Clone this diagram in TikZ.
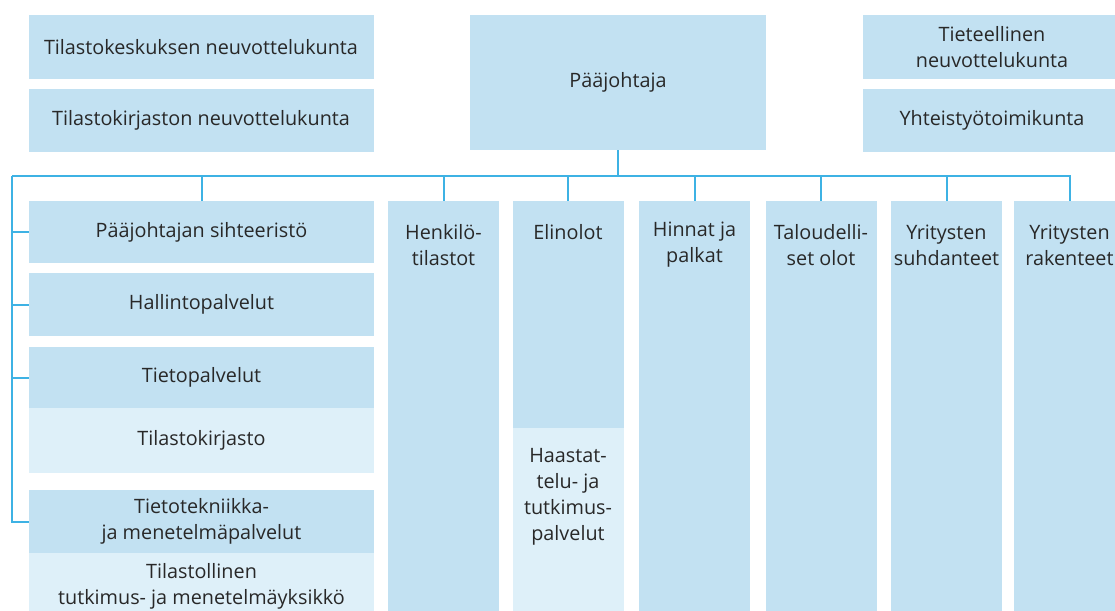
\documentclass[tikz,border=0pt]{standalone}
\usepackage{fontspec}
\setmainfont{Open Sans}
\definecolor{orgblue}{RGB}{194,225,242}
\definecolor{orglight}{RGB}{222,240,249}
\definecolor{orgline}{RGB}{62,178,228}
\definecolor{orgtext}{RGB}{40,40,40}
\begin{document}
\begin{tikzpicture}[x=1pt,y=-1pt]
    \tikzset{unit/.style = {shape=rectangle,fill=orgblue,text=orgtext,align=center,inner sep=0pt,font=\fontsize{19.8}{26}\selectfont}}
    \tikzset{subunit/.style = {unit,fill=orglight}}
    \tikzset{wide/.style = {minimum width=345pt}}
    \tikzset{dept/.style = {unit,minimum width=111pt}}
    \tikzset{depttitle/.style = {text=orgtext,align=center,inner sep=0pt,font=\fontsize{19.8}{26}\selectfont}}
    \tikzset{conn/.style = {draw=orgline,line width=2pt}}
    \useasboundingbox (0,0) rectangle (1115,610);
    \clip (0,0) rectangle (1115,610);
    % boards on the left
    \node[unit,wide,minimum height=64pt] (tkneuv) at (201,47) {Tilastokeskuksen neuvottelukunta};
    \node[unit,wide,minimum height=63pt] (tkkneuv) at (201,120.5) {Tilastokirjaston neuvottelukunta};
    % director general
    \node[unit,minimum width=296pt,minimum height=135pt] (pj) at (618,82.5) {Pääjohtaja};
    % boards on the right
    \node[unit,minimum width=258pt,minimum height=64pt] (tiet) at (992,47) {Tieteellinen\\neuvottelukunta};
    \node[unit,minimum width=258pt,minimum height=63pt] (yht) at (992,120.5) {Yhteistyötoimikunta};
    % staff units on the left
    \node[unit,wide,minimum height=62pt] (siht) at (201.5,232) {Pääjohtajan sihteeristö};
    \node[unit,wide,minimum height=63pt] (hall) at (201.5,304.5) {Hallintopalvelut};
    \node[unit,wide,minimum height=61pt] (tieto) at (201.5,377.5) {Tietopalvelut};
    \node[subunit,wide,minimum height=65pt] (kirj) at (201.5,440.5) {Tilastokirjasto};
    \node[unit,wide,minimum height=63pt] (tt) at (201.5,521.5) {Tietotekniikka-\\ja menetelmäpalvelut};
    \node[subunit,wide,minimum height=67pt] (tmy) at (201.5,586.5) {Tilastollinen\\tutkimus- ja menetelmäyksikkö};
    % statistics departments
    \node[dept,minimum height=419pt] (henk) at (443.5,410.5) {};
    \node[dept,minimum height=227pt] (elin) at (568,314.5) {};
    \node[subunit,minimum width=111pt,minimum height=192pt] (haas) at (568,524) {};
    \node[dept,minimum height=419pt] (hinnat) at (694.5,410.5) {};
    \node[dept,minimum height=419pt] (talous) at (821,410.5) {};
    \node[dept,minimum height=419pt] (suhd) at (946.5,410.5) {};
    \node[dept,minimum height=419pt] (rak) at (1069.5,410.5) {};
    % department titles
    \node[depttitle] (henkt) at (443.5,245) {Henkilö-\\tilastot};
    \node[depttitle] (elint) at (568,232) {Elinolot};
    \node[depttitle] (haast) at (568,497) {Haastat-\\telu- ja\\tutkimus-\\palvelut};
    \node[depttitle] (hinnatt) at (694.5,245) {Hinnat ja\\palkat};
    \node[depttitle] (taloust) at (821,245) {Taloudelli-\\set olot};
    \node[depttitle] (suhdt) at (946.5,245) {Yritysten\\suhdanteet};
    \node[depttitle] (rakt) at (1069.5,245) {Yritysten\\rakenteet};
    % connectors
    \coordinate (busl) at (12,176);
    \coordinate (busr) at (1069.5,176);
    \draw[conn] (pj.south) -- (pj.south |- busl);
    \draw[conn] (busl) -- (busr) -- (rak.north);
    \draw[conn] (siht.north) -- (siht.north |- busl);
    \draw[conn] (henk.north) -- (henk.north |- busl);
    \draw[conn] (elin.north) -- (elin.north |- busl);
    \draw[conn] (hinnat.north) -- (hinnat.north |- busl);
    \draw[conn] (talous.north) -- (talous.north |- busl);
    \draw[conn] (suhd.north) -- (suhd.north |- busl);
    \draw[conn] (busl) -- (busl |- tt.west) -- (tt.west);
    \draw[conn] (busl |- siht.west) -- (siht.west);
    \draw[conn] (busl |- hall.west) -- (hall.west);
    \draw[conn] (busl |- tieto.west) -- (tieto.west);
\end{tikzpicture}
\end{document}
